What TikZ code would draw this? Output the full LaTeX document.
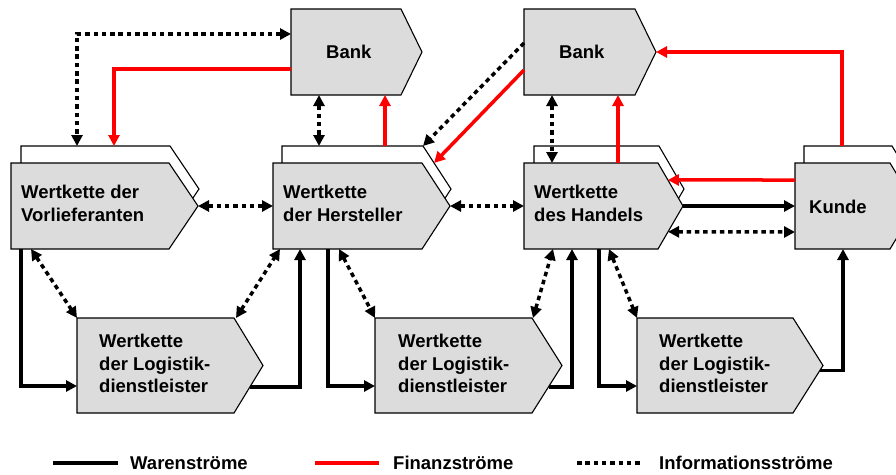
\documentclass[tikz,border=0pt]{standalone}
\usepackage{fontspec}
\setmainfont{Liberation Sans}
\usetikzlibrary{arrows.meta,calc}
\definecolor{boxgray}{RGB}{220,220,220}
\definecolor{flowred}{RGB}{255,0,0}
% outline of a value-chain arrow box: name, width of the pointed end, style
\newcommand\wkpentagon[3]{%
  \filldraw[#3] (#1.north west) -- ([xshift=-#2pt]#1.north east) -- (#1.east)
    -- ([xshift=-#2pt]#1.south east) -- (#1.south west) -- cycle;}
\begin{document}
\begin{tikzpicture}[x=1pt,y=-1pt,
  area/.style={rectangle,inner sep=0pt,outer sep=0pt,anchor=north west},
  frontbox/.style={draw=black,line width=1.1pt,fill=boxgray,line join=miter},
  backbox/.style={draw=black,line width=1.1pt,fill=white,line join=miter},
  txt/.style={anchor=base west,inner sep=0pt,align=left,
    font=\fontsize{18.5}{22.5}\selectfont\bfseries},
  onehead/.style={-{Triangle[length=11pt,width=11pt]}},
  twohead/.style={{Triangle[length=11pt,width=11pt]}-{Triangle[length=11pt,width=11pt]}},
  goods/.style={line width=3.5pt,black},
  money/.style={line width=3.5pt,flowred},
  info/.style={line width=3.5pt,black,dash pattern=on 4.5pt off 3.8pt},
]
\useasboundingbox (0,0) rectangle (896,474);

% ---- box areas ----
\node[area,minimum width=178pt,minimum height=86pt] (vls) at (21,146) {};
\node[area,minimum width=187pt,minimum height=86pt] (vl)  at (11,163) {};
\node[area,minimum width=169pt,minimum height=86pt] (hes) at (282,146) {};
\node[area,minimum width=177pt,minimum height=86pt] (he)  at (273,163) {};
\node[area,minimum width=150pt,minimum height=86pt] (has) at (534,146) {};
\node[area,minimum width=159pt,minimum height=86pt] (ha)  at (524,163) {};
\node[area,minimum width=114pt,minimum height=86pt] (kus) at (804,146) {};
\node[area,minimum width=121pt,minimum height=86pt] (ku)  at (795,163) {};
\node[area,minimum width=131pt,minimum height=86pt] (b1)  at (291,9) {};
\node[area,minimum width=132pt,minimum height=86pt] (b2)  at (524,9) {};
\node[area,minimum width=186pt,minimum height=95pt] (l1)  at (77,318) {};
\node[area,minimum width=187pt,minimum height=95pt] (l2)  at (375,318) {};
\node[area,minimum width=186pt,minimum height=95pt] (l3)  at (637,318) {};

% ---- box outlines ----
\wkpentagon{vls}{29}{backbox}
\wkpentagon{hes}{28}{backbox}
\wkpentagon{has}{25}{backbox}
\wkpentagon{kus}{26}{backbox}
\wkpentagon{vl}{29}{frontbox}
\wkpentagon{he}{28}{frontbox}
\wkpentagon{ha}{25}{frontbox}
\wkpentagon{ku}{26}{frontbox}
\wkpentagon{b1}{21}{frontbox}
\wkpentagon{b2}{21}{frontbox}
\wkpentagon{l1}{29}{frontbox}
\wkpentagon{l2}{30}{frontbox}
\wkpentagon{l3}{30}{frontbox}

% ---- Informationsstroeme ----
\draw[info,twohead] (b1.west |- 0,34) -| (vls.north -| 77,0);
\draw[info,twohead] (b1.south -| 319,0) -- (hes.north -| 319,0);
\draw[info,onehead] (b2.west |- 0,43) -- ([xshift=-28pt]hes.north east);
\draw[info,twohead] (b2.south -| 552,0) -- (ha.north -| 552,0);
\draw[info,twohead] (vl.east) -- (he.west);
\draw[info,twohead] (he.east) -- (ha.west);
\draw[info,twohead] ($(ha.east)!0.6!([xshift=-25pt]ha.south east)$) -- (ku.west |- 0,232);
\draw[info,twohead] (vl.south -| 31,0) -- (l1.north west);
\draw[info,twohead] (l1.north -| 236,0) -- (he.south -| 280,0);
\draw[info,twohead] (he.south -| 339,0) -- (l2.north west);
\draw[info,twohead] (l2.north -| 533,0) -- (ha.south -| 553,0);
\draw[info,twohead] (ha.south -| 609,0) -- (l3.north west);

% ---- Finanzstroeme ----
\draw[money,onehead] (b1.west |- 0,69) -| (vls.north -| 114,0);
\draw[money,onehead] (hes.north -| 385,0) -- (b1.south -| 385,0);
\draw[money,onehead] (b2.west |- 0,70) -- ($([xshift=-28pt]hes.north east)!0.395!(hes.east)$);
\draw[money,onehead] (ha.north -| 618,0) -- (b2.south -| 618,0);
\draw[money,onehead] (kus.north -| 842,0) |- (b2.east);
\draw[money,onehead] (ku.west |- 0,180) -- ($([xshift=-25pt]ha.north east)!0.395!(ha.east)$);

% ---- Warenstroeme ----
\draw[goods,onehead] (ha.east) -- (ku.west);
\draw[goods,onehead] (vl.south -| 21,0) |- (l1.west |- 0,386);
\draw[goods,onehead] ($(l1.east)!0.45!([xshift=-29pt]l1.south east)$) -| (he.south -| 300,0);
\draw[goods,onehead] (he.south -| 328,0) |- (l2.west |- 0,386);
\draw[goods,onehead] ($(l2.east)!0.45!([xshift=-30pt]l2.south east)$) -| (ha.south -| 572,0);
\draw[goods,onehead] (ha.south -| 599,0) |- (l3.west |- 0,386);
\draw[goods,onehead] ($(l3.east)!0.1!([xshift=-30pt]l3.south east)$) -| (ku.south -| 843,0);

% ---- texts (anchored at the baseline of the last line) ----
\node[txt] (tvl) at (21,221) {Wertkette der\\Vorlieferanten};
\node[txt] (the) at (283,221) {Wertkette\\der Hersteller};
\node[txt] (tha) at (534,221) {Wertkette\\des Handels};
\node[txt] (tku) at (809,213) {Kunde};
\node[txt] (tb1) at (326,58) {Bank};
\node[txt] (tb2) at (559,58) {Bank};
\node[txt] (tl1) at (99,392.5) {Wertkette\\der Logistik-\\dienstleister};
\node[txt] (tl2) at (398,392.5) {Wertkette\\der Logistik-\\dienstleister};
\node[txt] (tl3) at (659,392.5) {Wertkette\\der Logistik-\\dienstleister};

% ---- legend ----
\coordinate (lga) at (53,463);  \coordinate (lgb) at (118,463);
\coordinate (lfa) at (315,463); \coordinate (lfb) at (379,463);
\coordinate (lia) at (577,463); \coordinate (lib) at (640,463);
\draw[goods] (lga) -- (lgb);
\draw[money] (lfa) -- (lfb);
\draw[info] (lia) -- (lib);
\node[txt] (tlg) at (130,469) {Warenströme};
\node[txt] (tlf) at (393,469) {Finanzströme};
\node[txt] (tli) at (659,469) {Informationsströme};
\end{tikzpicture}
\end{document}
